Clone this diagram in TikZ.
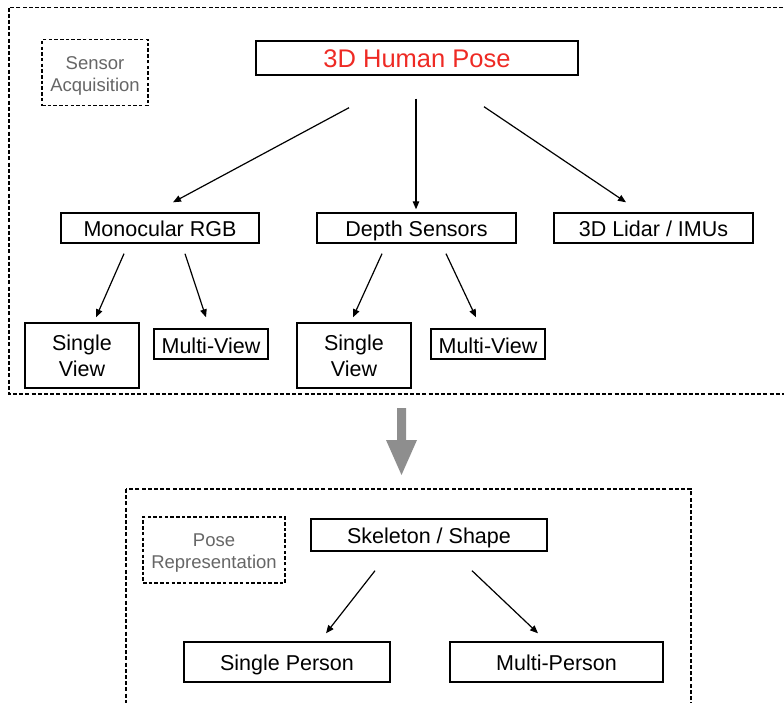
\documentclass[tikz,border=0pt]{standalone}
\usepackage{fontspec}
\setmainfont{Liberation Sans}
\usetikzlibrary{arrows.meta,calc}
\definecolor{titlered}{HTML}{EE2A24}
\definecolor{labelgray}{HTML}{666666}
\definecolor{flowgray}{HTML}{8E8E8E}
\begin{document}
\begin{tikzpicture}[x=1pt,y=-1pt,
  box/.style={draw=black,line width=1.4pt,inner sep=0pt,align=center,
    font=\fontsize{21.5}{26}\selectfont},
  oneline/.style={text height=20.5pt,text depth=3pt},
  tag/.style={draw=black,line width=1.4pt,dash pattern=on 3.5pt off 2.2pt,inner sep=0pt},
  tagtext/.style={align=center,text=labelgray,font=\fontsize{18.5}{22}\selectfont,yshift=-3pt},
  frame/.style={draw=black,line width=1.5pt,dash pattern=on 4pt off 2.2pt},
  arr/.style={-{Triangle[length=8pt,width=6.5pt]},line width=1.2pt},
]
\useasboundingbox (0,0) rectangle (784,702);

% dotted frames around the two stages
\draw[frame] (9,7.5) rectangle (800,394);
\draw[frame] (126,489) rectangle (691,715);

% stage 1: sensor acquisition
\node[tag,minimum width=106pt,minimum height=66pt,
  label={[tagtext]center:Sensor\\Acquisition}] (senslbl) at (95,72.5) {};
\node[box,minimum width=322pt,minimum height=34pt,text=titlered,
  text height=22pt,text depth=3.4pt,
  font=\fontsize{25.5}{30}\selectfont] (title) at (417,58) {3D Human Pose};

\node[box,oneline,minimum width=198pt,minimum height=30pt] (mono)  at (160,228)   {Monocular RGB};
\node[box,oneline,minimum width=199pt,minimum height=30pt] (depth) at (416.5,228) {Depth Sensors};
\node[box,oneline,minimum width=199pt,minimum height=30pt] (lidar) at (653.5,228) {3D Lidar / IMUs};

\node[box,minimum width=114pt,minimum height=65pt] (sv1) at (82,355.5)  {Single\\View};
\node[box,minimum width=114pt,minimum height=30pt,text height=21pt,text depth=1.5pt] (mv1) at (211,344) {Multi-View};
\node[box,minimum width=114pt,minimum height=65pt] (sv2) at (354,355.5) {Single\\View};
\node[box,minimum width=114pt,minimum height=30pt,text height=21pt,text depth=1.5pt] (mv2) at (488,344) {Multi-View};

\draw[arr] ([xshift=-68pt,yshift=-32pt]title.south) -- ([xshift=13pt,yshift=10pt]mono.north);
\draw[arr] ([xshift=-1pt,yshift=-23pt]title.south)  -- ([xshift=-0.5pt,yshift=3pt]depth.north);
\draw[arr] ([xshift=67pt,yshift=-31pt]title.south)  -- ([xshift=-27.5pt,yshift=10pt]lidar.north);

\draw[arr] ([xshift=-36pt,yshift=-10pt]mono.south)   -- ([xshift=14pt,yshift=5pt]sv1.north);
\draw[arr] ([xshift=25pt,yshift=-10pt]mono.south)    -- ([xshift=-5pt,yshift=11pt]mv1.north);
\draw[arr] ([xshift=-34.5pt,yshift=-10pt]depth.south) -- ([xshift=-1pt,yshift=5pt]sv2.north);
\draw[arr] ([xshift=29.5pt,yshift=-10pt]depth.south)  -- ([xshift=-12pt,yshift=11pt]mv2.north);

% transition between the stages
\fill[flowgray] (397,408) -- (406,408) -- (406,440) -- (417,440) -- (401.5,475)
  -- (386,440) -- (397,440) -- cycle;

% stage 2: pose representation
\node[tag,minimum width=142pt,minimum height=66pt,
  label={[tagtext]center:Pose\\Representation}] (poselbl) at (214,550) {};
\node[box,oneline,minimum width=236pt,minimum height=32pt] (skel) at (429,535) {Skeleton / Shape};
\node[box,oneline,minimum width=206pt,minimum height=40pt] (sp) at (287,662)   {Single Person};
\node[box,oneline,minimum width=213pt,minimum height=40pt] (mp) at (556.5,662) {Multi-Person};

\draw[arr] ([xshift=-54pt,yshift=-19pt]skel.south) -- ([xshift=39pt,yshift=8pt]sp.north);
\draw[arr] ([xshift=43pt,yshift=-19pt]skel.south)  -- ([xshift=-18.5pt,yshift=8pt]mp.north);
\end{tikzpicture}
\end{document}
